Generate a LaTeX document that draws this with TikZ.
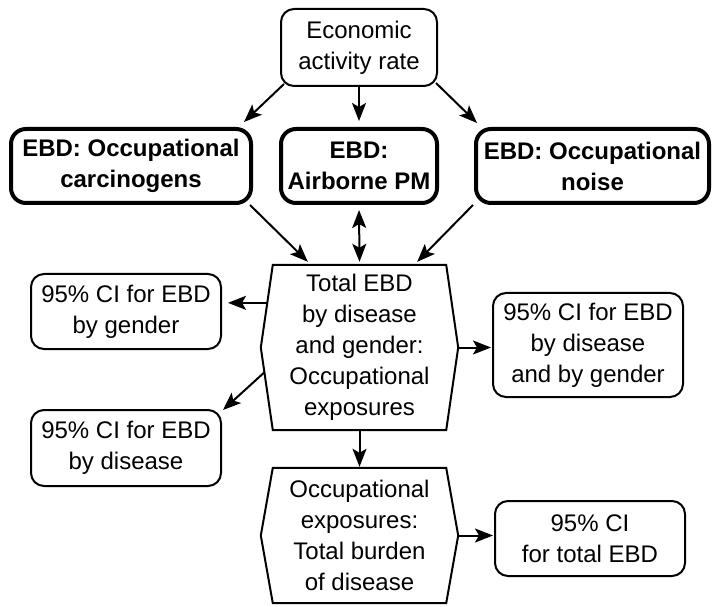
\documentclass[tikz,border=0pt]{standalone}
\usepackage{fontspec}
\setmainfont{Liberation Sans}
\usetikzlibrary{arrows.meta,calc}
\begin{document}
\begin{tikzpicture}[x=1pt,y=1pt,
  txt/.style={font=\fontsize{24}{31}\selectfont, align=center, inner sep=0pt},
  thinbox/.style={txt, draw, line width=2pt, rounded corners=13pt},
  boldbox/.style={txt, draw, line width=4pt, rounded corners=15pt,
    font=\fontsize{24}{31}\selectfont\bfseries},
  hexline/.style={line width=2pt, line join=miter},
  arr/.style={line width=2pt, -{Stealth[length=18pt,width=14pt,inset=4pt]}},
  darr/.style={line width=2pt,
    {Stealth[length=18pt,width=14pt,inset=4pt]}-{Stealth[length=18pt,width=14pt,inset=4pt]}}]
\useasboundingbox (0,0) rectangle (715,606);

% source
\node[thinbox, minimum width=156pt, minimum height=77pt] (econ) at (359,558.5)
  {Economic\\activity rate};

% exposure-specific burdens
\node[boldbox, minimum width=240pt, minimum height=74pt] (carc) at (131,440)
  {EBD: Occupational\\carcinogens};
\node[boldbox, minimum width=156pt, minimum height=74pt] (air) at (359,440)
  {EBD:\\Airborne PM};
\node[boldbox, minimum width=233pt, minimum height=74pt] (noise) at (592.5,440)
  {EBD: Occupational\\noise};

% total burden hexagons
\node[txt, minimum width=173pt, minimum height=165pt] (hex1) at (359.5,258.5)
  {Total EBD\\by disease\\and gender:\\Occupational\\exposures};
\coordinate (h1l) at ($(hex1.west)+(-12,0)$);
\coordinate (h1r) at ($(hex1.east)+(12,0)$);
\draw[hexline] (hex1.north west) -- (hex1.north east) -- (h1r)
  -- (hex1.south east) -- (hex1.south west) -- (h1l) -- cycle;

\node[txt, minimum width=173pt, minimum height=135pt] (hex2) at (359.5,70.5)
  {Occupational\\exposures:\\Total burden\\of disease};
\coordinate (h2l) at ($(hex2.west)+(-12,0)$);
\coordinate (h2r) at ($(hex2.east)+(12,0)$);
\draw[hexline] (hex2.north west) -- (hex2.north east) -- (h2r)
  -- (hex2.south east) -- (hex2.south west) -- (h2l) -- cycle;

% confidence intervals
\node[thinbox, minimum width=190pt, minimum height=75pt] (gender) at (126,294.5)
  {95\% CI for EBD\\by gender};
\node[thinbox, minimum width=190pt, minimum height=76pt] (disease) at (126,158)
  {95\% CI for EBD\\by disease};
\node[thinbox, minimum width=190pt, minimum height=104pt] (dg) at (588,261)
  {95\% CI for EBD\\by disease\\and by gender};
\node[thinbox, minimum width=190pt, minimum height=75pt] (ci) at (590,67.5)
  {95\% CI\\for total EBD};

% connectors
\draw[arr] ($(econ.south west)+(4,3)$) -- ($(carc.north east)+(-9,5)$);
\draw[arr, shorten >=6pt] (econ.south) -- (air.north);
\draw[arr] ($(econ.south east)+(-2,4)$) -- ($(noise.north west)+(3,4)$);

\draw[arr] ($(carc.south east)+(-3,0)$) -- ($(hex1.north west)+(35,3)$);
\draw[darr, shorten <=5pt, shorten >=3pt] (air.south) -- (hex1.north);
\draw[arr] ($(noise.south west)+(-1,0)$) -- ($(hex1.north east)+(-29,3)$);

\coordinate (g0) at ($(hex1.north west)!0.46!(h1l)$);
\draw[arr, shorten >=6pt] (g0) -- (g0 -| gender.east);
\coordinate (d0) at ($(h1l)!0.3!(hex1.south west)$);
\draw[arr] (d0) -- ($(disease.north east)+(1,-1)$);
\draw[arr, shorten >=1pt] (h1r) -- (h1r -| dg.west);
\draw[arr, shorten >=1pt] (hex1.south) -- (hex2.north);
\draw[arr, shorten >=1pt] (h2r) -- (h2r -| ci.west);
\end{tikzpicture}
\end{document}
